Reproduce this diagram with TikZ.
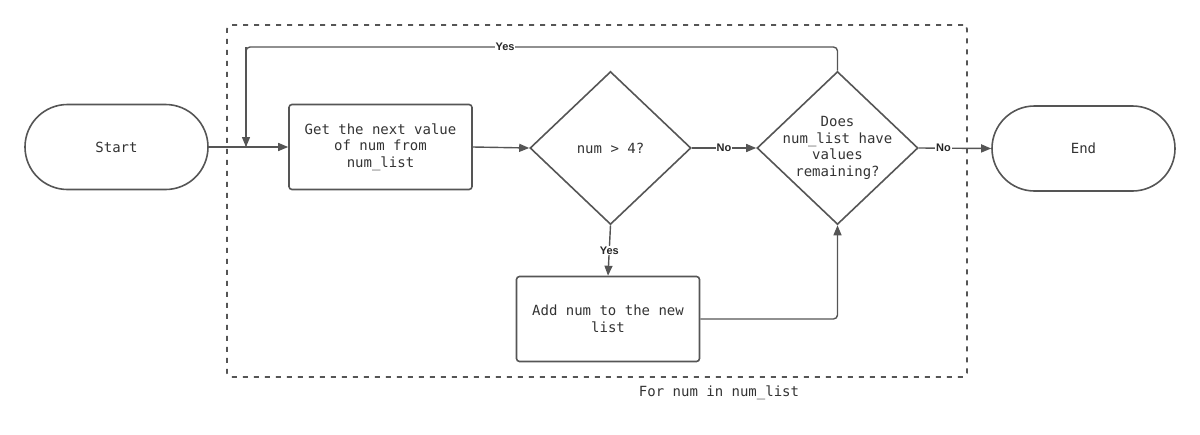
\documentclass[tikz,border=0pt]{standalone}
\usepackage{fontspec}
\setmonofont{DejaVu Sans Mono}
\newfontfamily\lblfont{Liberation Sans}
\usetikzlibrary{shapes.misc,shapes.geometric,arrows.meta}
\definecolor{ln}{HTML}{555555}
\definecolor{tx}{HTML}{333333}
\tikzset{
  base/.style={draw=ln, line width=1.6pt, text=tx, align=center,
    font=\ttfamily\fontsize{14}{16.5}\selectfont},
  term/.style={base, rounded rectangle, minimum width=183pt, minimum height=85pt, inner sep=0pt},
  proc/.style={base, rectangle, rounded corners=3pt, minimum width=183pt, minimum height=85pt, inner sep=0pt},
  dec/.style={base, diamond, minimum width=161pt, minimum height=153pt, inner sep=0pt},
  dectext/.style={text=tx, align=center, inner sep=0pt, font=\ttfamily\fontsize{14}{16.5}\selectfont},
  conn/.style={draw=ln, line width=1.4pt, -{Triangle[length=10pt,width=8pt]}},
  plain/.style={draw=ln, line width=1.4pt},
  lbl/.style={fill=white, text=black!85, inner sep=1pt, font=\lblfont\bfseries\fontsize{11}{13}\selectfont}
}
\begin{document}
\begin{tikzpicture}[x=1pt,y=-1pt]
\useasboundingbox (0,0) rectangle (1200,434);
\node[draw=ln, line width=1.6pt, dash pattern=on 5pt off 6pt, rounded corners=4pt,
  minimum width=740pt, minimum height=352pt, inner sep=0pt] (frame) at (597,201) {};
\node[text=tx, font=\ttfamily\fontsize{14}{16.5}\selectfont] (framelbl) at (719,393) {For num in num\_list};

\node[term] (start) at (116.5,147) {Start};
\node[proc] (get) at (380.5,147) {Get the next value\\of num from\\num\_list};
\node[dec] (d1) at (610.5,148) {};
\node[dectext] (d1t) at (d1.center) {num > 4?};
\node[dec] (d2) at (837.5,148) {};
\node[dectext] (d2t) at (d2.center) {Does\\num\_list have\\values\\remaining?};
\node[proc] (add) at (608,319) {Add num to the new\\list};
\node[term] (end) at (1083.5,148.5) {End};

\coordinate (join) at (246,147);
\coordinate (topleft) at (246,47);
\coordinate (topright) at (837.5,47);
\coordinate (addcorner) at (837.5,319);

\draw[conn] (start.east) -- (get.west);
\draw[conn] (get.east) -- (d1.west);
\draw[conn] (d1.east) -- node[lbl]{No} (d2.west);
\draw[conn] (d2.east) -- node[lbl, pos=0.34]{No} (end.west);
\draw[conn] (d1.south) -- node[lbl]{Yes} (add.north);
\draw[conn, rounded corners=4pt] (add.east) -- (addcorner) -- (d2.south);
\draw[plain, rounded corners=4pt] (d2.north) -- (topright) -- (topleft) -- (join);
\draw[conn] (topleft) -- (join);
\node[lbl] (yes2) at (505,47) {Yes};
\end{tikzpicture}
\end{document}
